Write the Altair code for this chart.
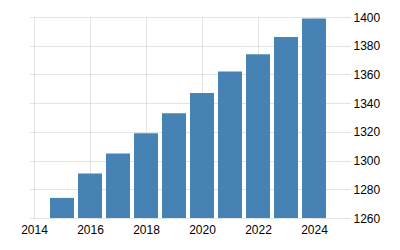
import altair as alt
import pandas as pd

years = [2015, 2016, 2017, 2018, 2019, 2020, 2021, 2022, 2023, 2024]
values = [1274, 1291, 1305, 1319, 1333, 1347, 1362, 1374, 1386, 1399]
x_ticks = [2014, 2016, 2018, 2020, 2022, 2024]
y_ticks = [1260, 1280, 1300, 1320, 1340, 1360, 1380, 1400]

df = pd.DataFrame({"year": years, "value": values, "base": [1260] * len(years)})

chart = alt.Chart(df).mark_bar(color="#4682b4", size=24).encode(
    x=alt.X("year:Q", scale=alt.Scale(domain=[2014, 2025], nice=False, zero=False),
            axis=alt.Axis(values=x_ticks, format="d", title=None, orient="bottom",
                          domain=False, ticks=False, labelPadding=6,
                          grid=True, gridColor="#c8c8c8", gridDash=[1, 1],
                          labelFont="Liberation Sans", labelFontSize=12,
                          labelColor="#000000", labelFlush=False)),
    y=alt.Y("value:Q", scale=alt.Scale(domain=[1260, 1400], nice=False, zero=False),
            axis=alt.Axis(values=y_ticks, format="d", title=None, orient="right",
                          domain=False, ticks=True, tickSize=4, tickColor="#c8c8c8",
                          tickDash=[1, 1], labelPadding=2,
                          grid=True, gridColor="#c8c8c8", gridDash=[1, 1],
                          labelFont="Liberation Sans", labelFontSize=12,
                          labelColor="#000000", labelBaseline="middle")),
    y2="base:Q",
).properties(
    width=318, height=201,
    autosize=alt.AutoSizeParams(type="none"),
    padding={"left": 29, "top": 17, "right": 53, "bottom": 32},
).configure_view(stroke=None)

chart.save("out.html", embed_options={"renderer": "svg", "actions": False})
